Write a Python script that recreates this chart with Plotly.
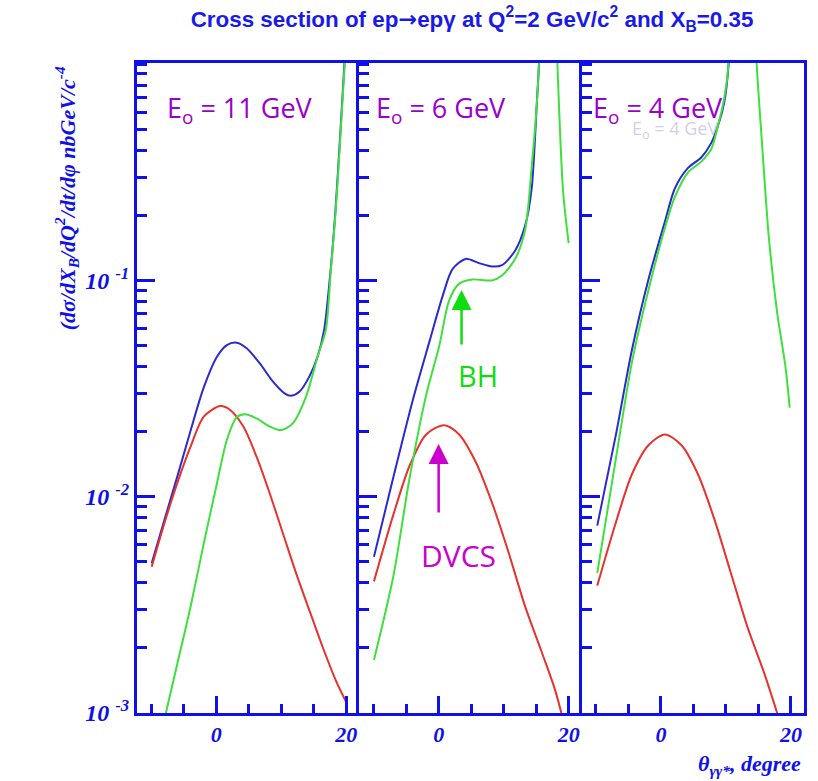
import plotly.graph_objects as go
from plotly.subplots import make_subplots

# ---------------- data (theta in degrees, cross section in nb GeV^-4) ----------------
# E0 = 11 GeV
theta_11_total = [-9.94, -8.01, -5.98, -3.96, -1.93, 0.1, 1.62, 3.14, 4.67, 6.69, 8.72, 10.5, 11.51, 12.78, 14.3, 15.57,
                  16.58, 17.5, 18.3, 19.0, 19.7, 20.05]
xs_11_total = [0.00492, 0.00776, 0.01245, 0.02018, 0.03199, 0.04436, 0.05023, 0.05152, 0.04853, 0.0413, 0.03404, 0.03006,
               0.02931, 0.03055, 0.03589, 0.04436, 0.0589, 0.105, 0.205, 0.44, 1.0, 1.5]
theta_11_dvcs = [-9.94, -8.01, -5.98, -3.96, -1.93, 0.61, 2.13, 4.16, 6.19, 8.22, 10.24, 12.27, 14.3, 16.33, 18.36, 20.0]
xs_11_dvcs = [0.00474, 0.0075, 0.01161, 0.01702, 0.02344, 0.02624, 0.02518, 0.02109, 0.01531, 0.01035, 0.00678,
              0.00443, 0.00299, 0.00203, 0.00142, 0.00112]
theta_11_bh = [-7.76, -5.98, -3.96, -1.93, 0.1, 1.62, 3.14, 4.41, 6.19, 8.22, 10.0, 11.76, 13.79, 15.57, 16.84, 17.6,
               18.38, 19.07, 19.75, 20.1]
xs_11_bh = [0.001, 0.0017, 0.0031, 0.00608, 0.01153, 0.01828, 0.02328, 0.02404, 0.02301, 0.02109, 0.02032, 0.02183,
            0.02897, 0.04436, 0.0589, 0.1096, 0.2123, 0.457, 1.0, 1.5]

# E0 = 6 GeV
theta_6_total = [-9.95, -7.0, -3.96, -1.42, 0.61, 2.13, 4.16, 6.19, 8.22, 9.75, 11.78, 13.3, 14.3, 15.08, 15.43, 15.6]
xs_6_total = [0.00528, 0.0122, 0.0281, 0.0521, 0.0846, 0.1127, 0.1257, 0.1202, 0.116, 0.1177, 0.1375, 0.1787, 0.265, 0.641, 1.0, 1.5]
theta_6_dvcs = [-9.95, -7.0, -4.47, -1.93, 0.86, 3.15, 5.69, 8.22, 10.76, 13.3, 15.84, 17.87, 18.88]
xs_6_dvcs = [0.00406, 0.0082, 0.0139, 0.0194, 0.0214, 0.0194, 0.0145, 0.00936, 0.00552, 0.00311, 0.00192, 0.00129, 0.001]
theta_6_bh = [-9.95, -7.0, -4.47, -1.93, 0.1, 1.62, 3.15, 5.18, 8.22, 9.75, 11.78, 13.3, 14.3, 15.08, 15.43, 15.6,
              None, 18.1, 18.27, 19.14, 20.0]
xs_6_bh = [0.00176, 0.00424, 0.0122, 0.0294, 0.0499, 0.0809, 0.0966, 0.101, 0.100, 0.1054, 0.1259, 0.171, 0.331, 0.641, 1.0, 1.5,
           None, 1.5, 1.0, 0.259, 0.1486]

# E0 = 4 GeV
theta_4_total = [-9.8, -7.0, -4.47, -1.93, 0.61, 2.13, 4.16, 6.19, 7.72, 8.73, 9.75, 10.4, 10.6]
xs_4_total = [0.00735, 0.0189, 0.0477, 0.101, 0.187, 0.266, 0.331, 0.370, 0.431, 0.514, 0.670, 1.0, 1.5]
theta_4_dvcs = [-9.8, -7.0, -4.47, -1.93, 0.61, 3.15, 5.69, 8.22, 10.76, 13.3, 15.84, 17.87]
xs_4_dvcs = [0.00388, 0.0075, 0.0127, 0.0173, 0.0194, 0.0173, 0.0127, 0.00785, 0.00443, 0.0025, 0.00154, 0.001]
theta_4_bh = [-9.8, -7.0, -4.47, -1.93, 0.61, 2.13, 4.16, 6.19, 7.72, 8.73, 9.75, 10.4, 10.6,
              None, 14.5, 14.72, 15.58, 16.6, 17.87, 19.14, 19.8]
xs_4_bh = [0.00443, 0.0146, 0.0418, 0.0903, 0.175, 0.243, 0.316, 0.354, 0.404, 0.514, 0.700, 1.0, 1.5,
           None, 1.5, 1.0, 0.413, 0.157, 0.071, 0.040, 0.0258]

panel_labels = ["E<sub>o</sub> = 11 GeV", "E<sub>o</sub> = 6 GeV", "E<sub>o</sub> = 4 GeV"]
x_tick_vals = [0, 20]
y_tick_vals = [0.001, 0.01, 0.1]
y_tick_text = ["10 <sup>-3</sup>", "10 <sup>-2</sup>", "10 <sup>-1</sup>"]

# ---------------- styling ----------------
FRAME = "#1010e8"
C_TOT = "#2a2ad0"
C_DVCS = "#e8322c"
C_BH = "#3ee03e"
W, H = 818, 781
ML, MR, MT, MB = 137, 11, 63, 68
PW, PH = W - ML - MR, H - MT - MB


def px(x):
    return (x - ML) / PW


def py(y):
    return (H - MB - y) / PH


fig = make_subplots(rows=1, cols=3, shared_yaxes=True, horizontal_spacing=0)

panels = [
    (theta_11_total, xs_11_total, theta_11_dvcs, xs_11_dvcs, theta_11_bh, xs_11_bh),
    (theta_6_total, xs_6_total, theta_6_dvcs, xs_6_dvcs, theta_6_bh, xs_6_bh),
    (theta_4_total, xs_4_total, theta_4_dvcs, xs_4_dvcs, theta_4_bh, xs_4_bh),
]
for i, (tt, yt, td, yd, tb, yb) in enumerate(panels, start=1):
    fig.add_trace(go.Scatter(x=tt, y=yt, mode="lines", line=dict(color=C_TOT, width=2, shape="spline", smoothing=0.8),
                             showlegend=False, hoverinfo="skip"), row=1, col=i)
    fig.add_trace(go.Scatter(x=td, y=yd, mode="lines", line=dict(color=C_DVCS, width=2, shape="spline", smoothing=0.8),
                             showlegend=False, hoverinfo="skip"), row=1, col=i)
    fig.add_trace(go.Scatter(x=tb, y=yb, mode="lines", connectgaps=False,
                             line=dict(color=C_BH, width=2, shape="spline", smoothing=0.8),
                             showlegend=False, hoverinfo="skip"), row=1, col=i)

xtickfont = dict(family="Liberation Serif", size=22, color=FRAME, weight="bold", style="italic")
ytickfont = dict(family="Liberation Serif", size=24, color=FRAME, weight="bold", style="italic")

fig.update_xaxes(range=[-12.2, 22.0], tickvals=x_tick_vals, ticks="inside", ticklen=17, tickwidth=2.5,
                 tickcolor=FRAME, showline=True, linecolor=FRAME, linewidth=3, mirror=True,
                 showgrid=False, zeroline=False, tickfont=xtickfont,
                 minor=dict(dtick=5, tick0=0, ticks="inside", ticklen=9, tickwidth=2.5, tickcolor=FRAME, showgrid=False))
fig.update_yaxes(type="log", range=[-3.0, 0.005], tickvals=y_tick_vals, ticktext=y_tick_text,
                 ticks="inside", ticklen=18, tickwidth=2.5,
                 tickcolor=FRAME, showline=True, linecolor=FRAME, linewidth=3, mirror=False,
                 showgrid=False, zeroline=False, tickfont=ytickfont,
                 minor=dict(dtick="D1", ticks="inside", ticklen=10, tickwidth=2.5, tickcolor=FRAME, showgrid=False))
fig.update_yaxes(showticklabels=False, row=1, col=2)
fig.update_yaxes(showticklabels=False, mirror=True, row=1, col=3)

annotations = []
# panel energy labels
for xl, txt in zip([165, 375, 593], panel_labels):
    annotations.append(dict(x=px(xl), y=py(109), xref="paper", yref="paper", text=txt, showarrow=False,
                            xanchor="left", yanchor="middle",
                            font=dict(family="Open Sans", size=27, color="#9a00cc")))
# faint ghost label in third panel
annotations.append(dict(x=px(632), y=py(129), xref="paper", yref="paper", text="E<sub>o</sub> = 4 GeV",
                        showarrow=False, xanchor="left", yanchor="middle",
                        font=dict(family="Open Sans", size=18, color="rgba(165,155,215,0.5)")))
# BH label and arrow
annotations.append(dict(x=px(480), y=py(375), xref="paper", yref="paper", text="BH", showarrow=False,
                        xanchor="center", yanchor="middle", font=dict(family="Open Sans", size=29, color="#10dd10")))
annotations.append(dict(x=px(463), y=py(290), xref="paper", yref="paper", text="", showarrow=True,
                        ax=0, ay=56, arrowcolor="#10dd10", arrowwidth=2.5, arrowhead=2, arrowsize=1.6))
# DVCS label and arrow
annotations.append(dict(x=px(460), y=py(555), xref="paper", yref="paper", text="DVCS", showarrow=False,
                        xanchor="center", yanchor="middle", font=dict(family="Open Sans", size=30, color="#cc00cc")))
annotations.append(dict(x=px(440), y=py(444), xref="paper", yref="paper", text="", showarrow=True,
                        ax=0, ay=70, arrowcolor="#cc00cc", arrowwidth=2.5, arrowhead=2, arrowsize=1.6))
# y axis title
annotations.append(dict(x=px(66), y=py(198), xref="paper", yref="paper",
                        text="(dσ/dX<sub>B</sub>/dQ<sup>2</sup>/dt/dφ nbGeV/c<sup>-4</sup>",
                        showarrow=False, textangle=-90, xanchor="center", yanchor="middle",
                        font=dict(family="Liberation Serif", size=22, color=FRAME, weight="bold", style="italic")))
# x axis title
annotations.append(dict(x=px(806), y=py(765), xref="paper", yref="paper",
                        text="θ<sub>γγ*</sub>, degree",
                        showarrow=False, xanchor="right", yanchor="middle",
                        font=dict(family="Liberation Serif", size=22, color=FRAME, weight="bold", style="italic")))

fig.update_layout(
    width=W, height=H, autosize=False,
    margin=dict(l=ML, r=MR, t=MT, b=MB),
    paper_bgcolor="white", plot_bgcolor="white",
    title=dict(text="Cross section of ep<span style=\"font-family:DejaVu Sans\">→</span>epγ at Q<sup>2</sup>=2 GeV/c<sup>2</sup> and X<sub>B</sub>=0.35",
               x=472 / W, xanchor="center", y=1 - 19 / H, yanchor="middle", xref="container", yref="container",
               font=dict(family="Liberation Sans", size=22.4, color="#1a1ae6", weight="bold")),
    annotations=annotations,
)

fig.write_html("out.html", include_plotlyjs=True, config={"displayModeBar": False})
